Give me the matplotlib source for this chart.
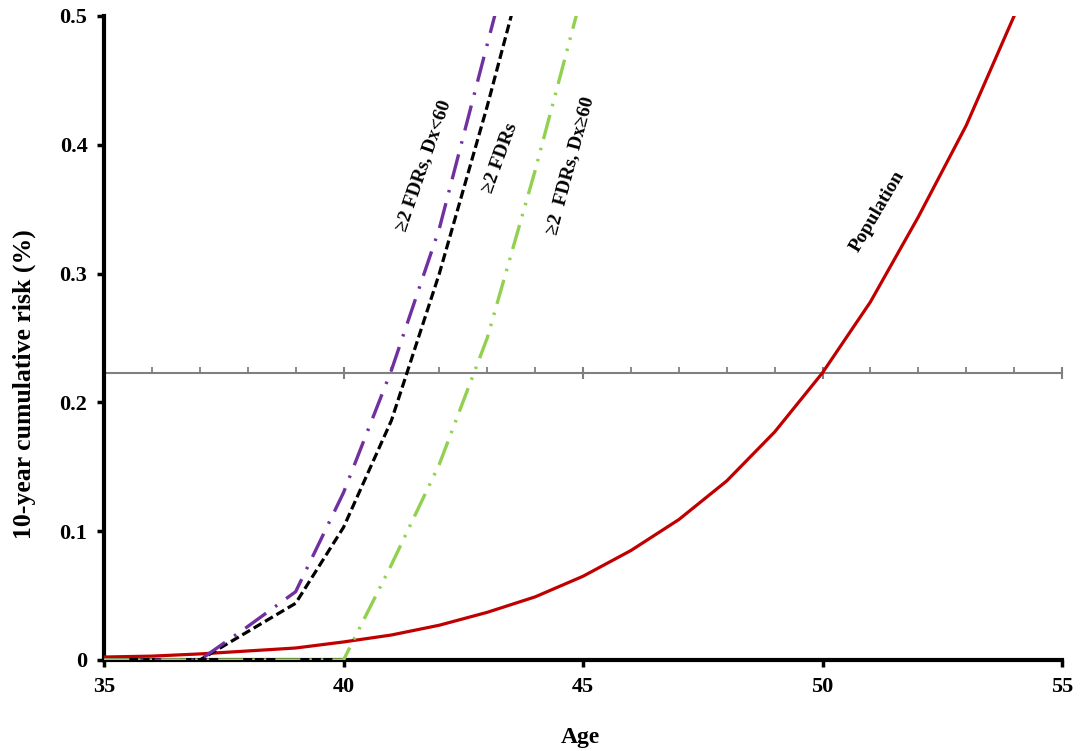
import matplotlib
matplotlib.use("Agg")
import matplotlib.pyplot as plt
from matplotlib.ticker import MultipleLocator

plt.rcParams['font.family'] = ['Liberation Serif', 'DejaVu Serif']
plt.rcParams['font.weight'] = 'bold'
plt.rcParams['font.style'] = 'normal'
plt.rcParams['lines.scale_dashes'] = False

# ---- data ----
ages_pop = [35, 36, 37, 38, 39, 40, 41, 42, 43, 44, 45, 46, 47, 48, 49, 50, 51, 52, 53, 54]
risk_pop = [0.0023, 0.003, 0.0047, 0.007, 0.0093, 0.014, 0.0194, 0.027, 0.037, 0.049,
            0.065, 0.085, 0.109, 0.139, 0.177, 0.223, 0.278, 0.344, 0.415, 0.50]

ages_fdr = [35, 36, 37, 38, 39, 40, 41, 42, 43, 44]
risk_fdr = [0.0, 0.0, 0.0, 0.022, 0.044, 0.103, 0.186, 0.30, 0.43, 0.57]

ages_young = [35, 36, 37, 38, 39, 40, 41, 42, 43, 44]
risk_young = [0.0, 0.0, 0.0, 0.026, 0.053, 0.130, 0.225, 0.335, 0.478, 0.62]

ages_old = [35, 36, 37, 38, 39, 40, 41, 42, 43, 44, 45]
risk_old = [0.0, 0.0, 0.0, 0.0, 0.0, 0.0, 0.074, 0.152, 0.25, 0.38, 0.52]

threshold = 0.223
x_ticks = [35, 40, 45, 50, 55]
y_ticks = [0, 0.1, 0.2, 0.3, 0.4, 0.5]
y_ticklabels = ['0', '0.1', '0.2', '0.3', '0.4', '0.5']

labels = ['\u22652 FDRs, Dx<60', '\u22652 FDRs', '\u22652  FDRs, Dx\u226560', 'Population']
label_pos = [(41.68, 0.384), (43.27, 0.39), (44.73, 0.384), (51.14, 0.348)]
label_rot = [71, 70, 75, 59.5]

c_pop = '#C00000'
c_young = '#7030A0'
c_old = '#92D050'
c_fdr = '#000000'

fig = plt.figure(figsize=(10.85, 7.51), dpi=100)
ax = fig.add_axes([0.0959, 0.1212, 0.8829, 0.8575])

ax.set_xlim(35, 55)
ax.set_ylim(0, 0.5)

ax.plot(ages_pop, risk_pop, color=c_pop, lw=2.3, zorder=5)
ax.plot(ages_fdr, risk_fdr, color=c_fdr, lw=2.3, linestyle=(0, (6.5, 3.0)), zorder=6)
ax.plot(ages_young, risk_young, color=c_young, lw=2.4,
        linestyle=(0, (18.5, 8.0, 1.8, 8.0)), zorder=7)
ax.plot(ages_old, risk_old, color=c_old, lw=2.4,
        linestyle=(0, (18.0, 6.5, 1.8, 6.5, 1.8, 6.5)), zorder=8)

# threshold line with its own tick marks
sec = ax.secondary_xaxis(threshold / 0.5)
sec.spines['bottom'].set_color('#808080')
sec.spines['bottom'].set_linewidth(1.5)
sec.xaxis.set_major_locator(MultipleLocator(5))
sec.xaxis.set_minor_locator(MultipleLocator(1))
sec.tick_params(axis='x', which='major', direction='inout', length=9, width=1.5,
                color='#808080', labelbottom=False)
sec.tick_params(axis='x', which='minor', direction='in', length=4, width=1.3,
                color='#808080')

for sp in ['top', 'right']:
    ax.spines[sp].set_visible(False)
for sp in ['left', 'bottom']:
    ax.spines[sp].set_linewidth(3)
    ax.spines[sp].set_zorder(2)

ax.set_xticks(x_ticks)
ax.set_yticks(y_ticks)
ax.set_yticklabels(y_ticklabels)
ax.tick_params(axis='both', which='major', direction='out', length=5, width=2.5,
               labelsize=16, pad=7)

ax.set_xlabel('Age', fontsize=17, fontweight='bold')
ax.xaxis.set_label_coords(0.497, -0.104)
ax.set_ylabel('10-year cumulative risk (%)', fontsize=18.5, fontweight='bold')
ax.yaxis.set_label_coords(-0.071, 0.4286)

for txt, (xx, yy), rot in zip(labels, label_pos, label_rot):
    ax.text(xx, yy, txt, rotation=rot, rotation_mode='anchor', ha='center', va='center',
            fontsize=14, fontweight='bold', fontstyle='normal', zorder=10)

fig.savefig('out.png', dpi=100)
